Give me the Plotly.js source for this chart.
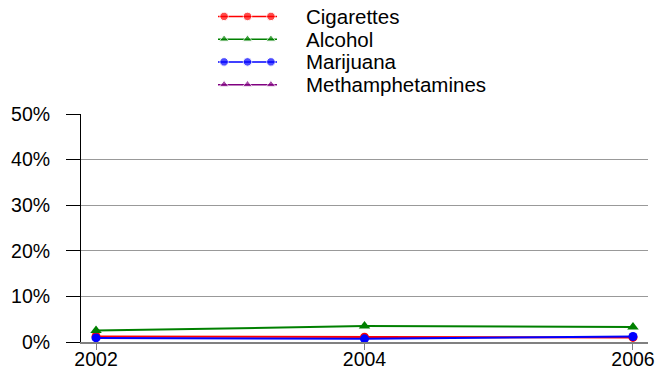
<!DOCTYPE html>
<html>
<head>
<meta charset="utf-8">
<script src="https://cdn.plot.ly/plotly-3.0.1.min.js"></script>
<style>html,body{margin:0;padding:0;background:#fff}#chart{width:655px;height:370px}</style>
</head>
<body>
<div id="chart"></div>
<script>
const years = [2002, 2004, 2006];
const seriesNames = ["Cigarettes", "Alcohol", "Marijuana", "Methamphetamines"];
const cigarettes = [1.2, 1.05, 1.0];
const alcohol = [2.5, 3.5, 3.3];
const marijuana = [0.9, 0.7, 1.2];
const methamphetamines = [null, null, null];
const yTickVals = [0, 10, 20, 30, 40, 50];
const yTickText = ["0%", "10%", "20%", "30%", "40%", "50%"];

const colors = ["#ff0000", "#008000", "#0000ff", "#800080"];
const symbols = ["circle", "triangle-up", "circle", "triangle-up"];
const values = [cigarettes, alcohol, marijuana, methamphetamines];
const W = 655, H = 370;
const FONT = "Liberation Sans, Arial, sans-serif";

const traces = [];
values.forEach((v, i) => {
  traces.push({
    x: years, y: v, type: "scatter", mode: "lines+markers", name: seriesNames[i],
    line: {color: colors[i], width: 2},
    marker: {color: colors[i], symbol: symbols[i], size: symbols[i] === "circle" ? 9 : 10},
    showlegend: false, cliponaxis: false, hoverinfo: "skip"
  });
});
// legend glyphs (three markers on a line) drawn on a helper axis
const annotations = [];
seriesNames.forEach((n, i) => {
  traces.push({
    x: [-0.26, 0, 1, 2, 2.26], y: [i, i, i, i, i],
    xaxis: "x2", yaxis: "y2", type: "scatter", mode: "lines+markers",
    line: {color: colors[i], width: 1.5},
    marker: {color: colors[i], symbol: symbols[i], size: [0, 8.5, 8.5, 8.5, 0]},
    showlegend: false, hoverinfo: "skip", cliponaxis: false
  });
  annotations.push({
    xref: "paper", yref: "y2", x: 304 / W, y: i, text: n, showarrow: false,
    xanchor: "left", yanchor: "middle", font: {family: FONT, size: 20.5, color: "#000"}
  });
});

const layout = {
  width: W, height: H,
  margin: {l: 0, r: 0, t: 0, b: 0},
  paper_bgcolor: "#fff", plot_bgcolor: "#fff",
  showlegend: false,
  font: {family: FONT, size: 19, color: "#000"},
  xaxis: {
    domain: [81 / W, 648 / W], range: [2001.888, 2006.112],
    tickvals: years, ticktext: years.map(String),
    ticks: "outside", ticklen: 6, tickcolor: "#808080", tickwidth: 1,
    ticklabelstandoff: -7,
    showline: true, linecolor: "#808080", linewidth: 1.5,
    showgrid: false, zeroline: false, fixedrange: true,
    tickfont: {family: FONT, size: 19.5, color: "#000"}
  },
  yaxis: {
    domain: [28 / H, 256 / H], range: [0, 50],
    tickvals: yTickVals, ticktext: yTickText,
    ticks: "outside", ticklen: 14, tickcolor: "#000", tickwidth: 1,
    ticklabelstandoff: 12,
    showline: true, linecolor: "#000", linewidth: 1,
    showgrid: true, gridcolor: "#999999", gridwidth: 1,
    zeroline: false, fixedrange: true,
    tickfont: {family: FONT, size: 19.5, color: "#000"}
  },
  xaxis2: {domain: [218 / W, 277 / W], range: [-0.26, 2.26], visible: false, fixedrange: true, anchor: "y2"},
  yaxis2: {domain: [274 / H, 365 / H], range: [3.5, -0.5], visible: false, fixedrange: true, anchor: "x2"},
  annotations: annotations
};

Plotly.newPlot("chart", traces, layout, {displayModeBar: false, staticPlot: true});
</script>
</body>
</html>
